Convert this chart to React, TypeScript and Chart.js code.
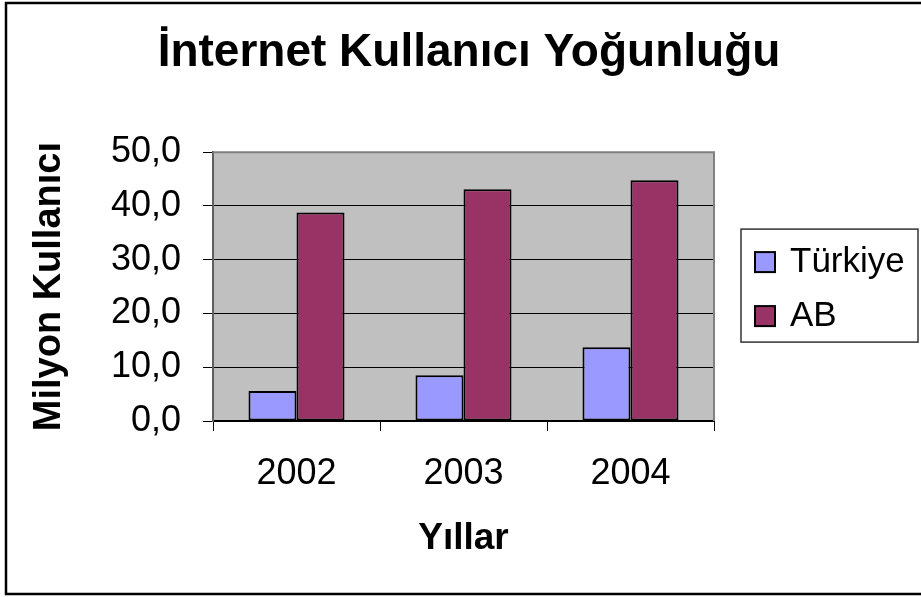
import React, { useEffect, useRef } from 'react';
import { Chart, registerables } from 'chart.js';

Chart.register(...registerables);

const categories = ['2002', '2003', '2004'];
const seriesNames = ['Türkiye', 'AB'];
const turkiyeValues = [5.6, 8.5, 13.7];
const abValues = [38.8, 43.1, 44.8];
const yTickValues = [0, 10, 20, 30, 40, 50];
const seriesColors = ['#9999FF', '#993366'];

const FONT = "'Liberation Sans', Arial, Helvetica, sans-serif";

export default function App() {
  const ref = useRef<HTMLCanvasElement>(null);

  useEffect(() => {
    document.body.style.margin = '0';
    const canvas = ref.current;
    if (!canvas) return;

    const decor = {
      id: 'decor',
      beforeDraw(chart: any) {
        const { ctx, chartArea: a } = chart;
        ctx.save();
        ctx.fillStyle = '#ffffff';
        ctx.fillRect(0, 0, chart.width, chart.height);
        ctx.fillStyle = '#C0C0C0';
        ctx.fillRect(a.left, a.top, a.right - a.left, a.bottom - a.top);
        ctx.restore();
      },
      beforeDatasetsDraw(chart: any) {
        const { ctx, chartArea: a } = chart;
        ctx.save();
        ctx.strokeStyle = '#808080';
        ctx.lineWidth = 2;
        ctx.beginPath();
        ctx.moveTo(a.left, a.top);
        ctx.lineTo(a.right, a.top);
        ctx.lineTo(a.right, a.bottom);
        ctx.stroke();
        ctx.restore();
      },
      afterDraw(chart: any) {
        const { ctx, chartArea: a } = chart;
        ctx.save();
        // outer frame
        ctx.strokeStyle = '#000';
        ctx.lineWidth = 2.5;
        ctx.strokeRect(6, 3, 1000, 591);
        // legend
        const cy = (a.top + a.bottom) / 2;
        const lx = a.right + 27;
        const lw = 177;
        const lh = 113;
        const ly = cy - lh / 2 - 1;
        ctx.strokeStyle = '#333';
        ctx.lineWidth = 1.5;
        ctx.strokeRect(lx, ly, lw, lh);
        chart.data.datasets.forEach((ds: any, i: number) => {
          const iy = cy - 24.5 + i * 54;
          ctx.fillStyle = ds.backgroundColor;
          ctx.fillRect(lx + 14, iy - 10, 20, 20);
          ctx.strokeStyle = '#000';
          ctx.lineWidth = 2;
          ctx.strokeRect(lx + 14, iy - 10, 20, 20);
          ctx.fillStyle = '#000';
          ctx.font = `35px ${FONT}`;
          ctx.textBaseline = 'middle';
          ctx.textAlign = 'left';
          ctx.fillText(ds.label, lx + 49, iy);
        });
        ctx.restore();
      },
    };

    const chart = new Chart(canvas, {
      type: 'bar',
      data: {
        labels: categories,
        datasets: [
          {
            label: seriesNames[0],
            data: turkiyeValues,
            backgroundColor: seriesColors[0],
            borderColor: '#000',
            borderWidth: 2,
            borderSkipped: false,
            categoryPercentage: 0.575,
            barPercentage: 1,
            xAxisID: 'x',
            yAxisID: 'y',
          },
          {
            label: seriesNames[1],
            data: abValues,
            backgroundColor: seriesColors[1],
            borderColor: '#000',
            borderWidth: 2,
            borderSkipped: false,
            categoryPercentage: 0.575,
            barPercentage: 1,
            xAxisID: 'x',
            yAxisID: 'y',
          },
        ],
      },
      options: {
        responsive: false,
        animation: false,
        devicePixelRatio: 1,
        layout: { padding: { left: 17, right: 0, top: 0, bottom: 0 } },
        plugins: {
          legend: { display: false },
          tooltip: { enabled: false },
          title: {
            display: true,
            text: 'İnternet Kullanıcı Yoğunluğu',
            color: '#000',
            font: { family: FONT, size: 46, weight: 'bold' },
            padding: { top: 26, bottom: 71 },
          },
        },
        scales: {
          x: {
            offset: true,
            grid: {
              offset: true,
              drawOnChartArea: false,
              drawTicks: true,
              tickLength: 10,
              color: '#000',
              lineWidth: 1,
            },
            border: { color: '#000', width: 2 },
            ticks: {
              color: '#000',
              font: { family: FONT, size: 36 },
              padding: 21,
            },
            title: {
              display: true,
              text: 'Yıllar',
              color: '#000',
              font: { family: FONT, size: 37, weight: 'bold' },
              padding: { top: 0, bottom: 36 },
            },
            afterFit: (s: any) => {
              s.height = 176;
            },
          },
          y: {
            type: 'linear',
            position: 'left',
            min: 0,
            max: 50,
            afterBuildTicks: (s: any) => {
              s.ticks = yTickValues.map((v) => ({ value: v }));
            },
            ticks: {
              color: '#000',
              font: { family: FONT, size: 36 },
              padding: 22,
              callback: (v: any) => Number(v).toFixed(1).replace('.', ','),
            },
            grid: {
              color: '#000',
              lineWidth: 1,
              tickLength: 10,
              tickColor: '#000',
            },
            border: { color: '#606060', width: 2 },
            title: {
              display: true,
              text: 'Milyon Kullanıcı',
              color: '#000',
              font: { family: FONT, size: 38, weight: 'bold' },
              padding: { top: 10, bottom: 0 },
            },
            afterFit: (s: any) => {
              s.width = 196;
            },
          },
          yRight: {
            type: 'linear',
            position: 'right',
            display: true,
            grid: { display: false, drawTicks: false },
            ticks: { display: false },
            border: { display: false },
            afterFit: (s: any) => {
              s.width = 207;
            },
          },
        },
      },
      plugins: [decor],
    } as any);

    return () => chart.destroy();
  }, []);

  return (
    <div style={{ width: 921, height: 597 }}>
      <canvas ref={ref} width={921} height={597} style={{ display: 'block' }} />
    </div>
  );
}
